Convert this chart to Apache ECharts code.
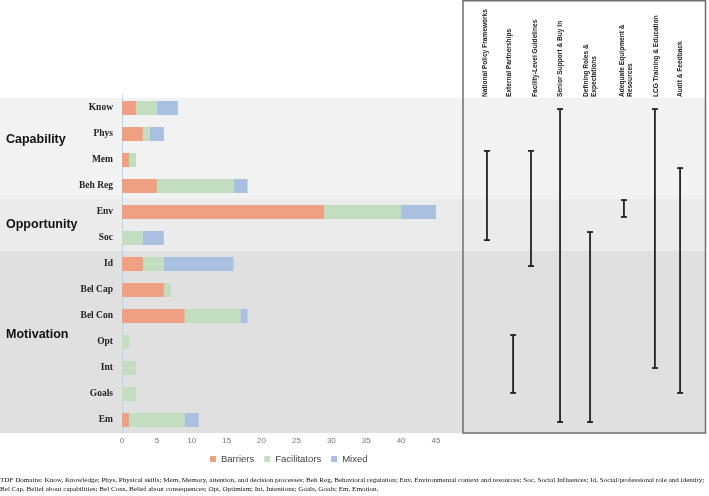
<!DOCTYPE html>
<html><head><meta charset="utf-8">
<script src="https://cdn.jsdelivr.net/npm/echarts@6/dist/echarts.min.js"></script>
<style>html,body{margin:0;padding:0;background:#fff}#c{width:709px;height:496px}</style>
</head><body><div id="c"></div>
<script>
// ---- data ----
const categories = ['Know','Phys','Mem','Beh Reg','Env','Soc','Id','Bel Cap','Bel Con','Opt','Int','Goals','Em'];
const barriers     = [2, 3, 1, 5, 29, 0, 3, 6, 9, 0, 0, 0, 1];
const facilitators = [3, 1, 1, 11, 11, 3, 3, 1, 8, 1, 2, 2, 8];
const mixed        = [3, 2, 0, 2, 5, 3, 10, 0, 1, 0, 0, 0, 2];
const seriesNames  = ['Barriers', 'Facilitators', 'Mixed'];
const xMin = 0, xMax = 45, xStep = 5;

const groupNames = ['Capability', 'Opportunity', 'Motivation'];
const groupFrom  = ['Know', 'Env', 'Id'];
const groupTo    = ['Beh Reg', 'Soc', 'Em'];
const groupLabelRow = [1.2, 4.5, 8.7];

const strategies = ['National Policy Frameworks', 'External Partnerships', 'Facility-Level Guidelines',
  'Senior Support & Buy In', 'Defining Roles &\nExpectations', 'Adequate Equipment &\nResources',
  'LCG Training & Education', 'Audit & Feedback'];
const strategyPos      = [9.9, 20.7, 28.1, 40.1, 52.5, 66.5, 79.3, 89.7];
const strategyLabelPos = [9.1, 19.0, 29.8, 40.1, 52.5, 67.4, 79.8, 89.7];
const spanStart = [1.65, 8.73, 1.65, 0.04, 4.77, 3.54, 0.04, 2.31];
const spanEnd   = [5.08, 10.96, 6.08, 12.08, 12.08, 4.19, 10.0, 10.96];

const footer1 = 'TDF Domains: Know, Knowledge; Phys, Physical skills; Mem, Memory, attention, and decision processes; Beh Reg, Behavioral regulation; Env, Environmental context and resources; Soc, Social Influences; Id, Social/professional role and identity;';
const footer2 = 'Bel Cap, Belief about capabilities; Bel Cons, Belief about consequences; Opt, Optimism; Int, Intentions; Goals, Goals; Em, Emotion.';

// ---- style ----
const colors = ['#ef9f82', '#c3ddc1', '#a9c0e0'];
const bandColors = ['#f2f2f2', '#ebebeb', '#e0e0e0'];

const chart = echarts.init(document.getElementById('c'), null, {renderer: 'canvas'});

const barSeries = [barriers, facilitators, mixed].map((d, i) => ({
  name: seriesNames[i], type: 'bar', stack: 'total', barWidth: 14,
  xAxisIndex: 0, yAxisIndex: 0, data: d,
  itemStyle: {color: colors[i]}, emphasis: {disabled: true}
}));

const option = {
  animation: false,
  color: colors,
  grid: [
    {left: 122, right: 273, top: 95, bottom: 63},
    {left: 463, width: 242, top: 95, bottom: 63}
  ],
  xAxis: [
    {type: 'value', gridIndex: 0, min: xMin, max: xMax, interval: xStep,
      axisLine: {show: false}, axisTick: {show: false}, splitLine: {show: false},
      axisLabel: {fontSize: 8, color: '#777', margin: 4, fontFamily: 'Liberation Sans'}},
    {type: 'value', gridIndex: 1, min: 0, max: 100, show: false}
  ],
  yAxis: [
    {type: 'category', gridIndex: 0, data: categories, inverse: true,
      axisLine: {show: true, lineStyle: {color: '#b9d3ec', width: 1}},
      axisTick: {show: false},
      axisLabel: {fontFamily: 'Liberation Serif', fontWeight: 'bold', fontSize: 9.5, color: '#222', margin: 9}},
    {type: 'value', gridIndex: 1, min: -0.5, max: 12.5, inverse: true, show: false}
  ],
  legend: {
    data: seriesNames, left: 210, top: 454, icon: 'rect', itemWidth: 6, itemHeight: 6, itemGap: 10,
    padding: 0, textStyle: {fontSize: 9.5, color: '#444', fontFamily: 'Liberation Sans'}
  },
  series: barSeries.concat([
    {
      type: 'custom', xAxisIndex: 1, yAxisIndex: 1, silent: true,
      data: strategyPos.map((x, i) => [x, spanStart[i], spanEnd[i]]),
      renderItem: function (params, api) {
        const x = api.value(0);
        const p0 = api.coord([x, api.value(1)]);
        const p1 = api.coord([x, api.value(2)]);
        const w = 3, st = {stroke: '#222', lineWidth: 1.8};
        return {type: 'group', children: [
          {type: 'line', shape: {x1: p0[0], y1: p0[1], x2: p1[0], y2: p1[1]}, style: st},
          {type: 'line', shape: {x1: p0[0] - w, y1: p0[1], x2: p0[0] + w, y2: p0[1]}, style: st},
          {type: 'line', shape: {x1: p1[0] - w, y1: p1[1], x2: p1[0] + w, y2: p1[1]}, style: st}
        ]};
      }
    },
    {
      type: 'custom', xAxisIndex: 1, yAxisIndex: 1, silent: true,
      data: strategyLabelPos.map((x, i) => [x, -0.5]),
      renderItem: function (params, api) {
        const p = api.coord([api.value(0), api.value(1)]);
        return {type: 'text', x: p[0], y: p[1] + 2, rotation: Math.PI / 2,
          style: {text: strategies[params.dataIndex], x: 0, y: 0, align: 'left', verticalAlign: 'middle',
            fill: '#222', fontSize: 6.6, fontWeight: 'bold', fontFamily: 'Liberation Sans', lineHeight: 8}};
      }
    }
  ])
};
chart.setOption(option);

// background bands and group labels from the axes' own scale
function rowY(v) { return chart.convertToPixel({yAxisIndex: 1}, v); }
const graphics = [];
groupNames.forEach((g, i) => {
  const y0 = rowY(categories.indexOf(groupFrom[i]) - 0.5) + (i === 0 ? 3 : 0);
  const y1 = rowY(categories.indexOf(groupTo[i]) + 0.5);
  graphics.push({type: 'rect', z: -10, shape: {x: 0, y: y0, width: 705, height: y1 - y0},
    style: {fill: bandColors[i]}, silent: true});
  graphics.push({type: 'text', z: 5, x: 6, y: rowY(groupLabelRow[i]),
    style: {text: g, fill: '#111', fontSize: 12.5, fontWeight: 'bold', fontFamily: 'Liberation Sans',
      verticalAlign: 'middle', align: 'left'}, silent: true});
});
const panelBottom = rowY(12.5);
graphics.push({type: 'rect', z: 10, shape: {x: 463, y: 0.75, width: 242.5, height: panelBottom - 0.75},
  style: {fill: 'none', stroke: '#6e6e6e', lineWidth: 1.5}, silent: true});
graphics.push({type: 'text', z: 5, x: 0, y: 480,
  style: {text: footer1, fill: '#111', fontSize: 7.1, fontFamily: 'Liberation Serif', verticalAlign: 'middle'}});
graphics.push({type: 'text', z: 5, x: 0, y: 489,
  style: {text: footer2, fill: '#111', fontSize: 7.1, fontFamily: 'Liberation Serif', verticalAlign: 'middle'}});
chart.setOption({graphic: graphics});
</script></body></html>
